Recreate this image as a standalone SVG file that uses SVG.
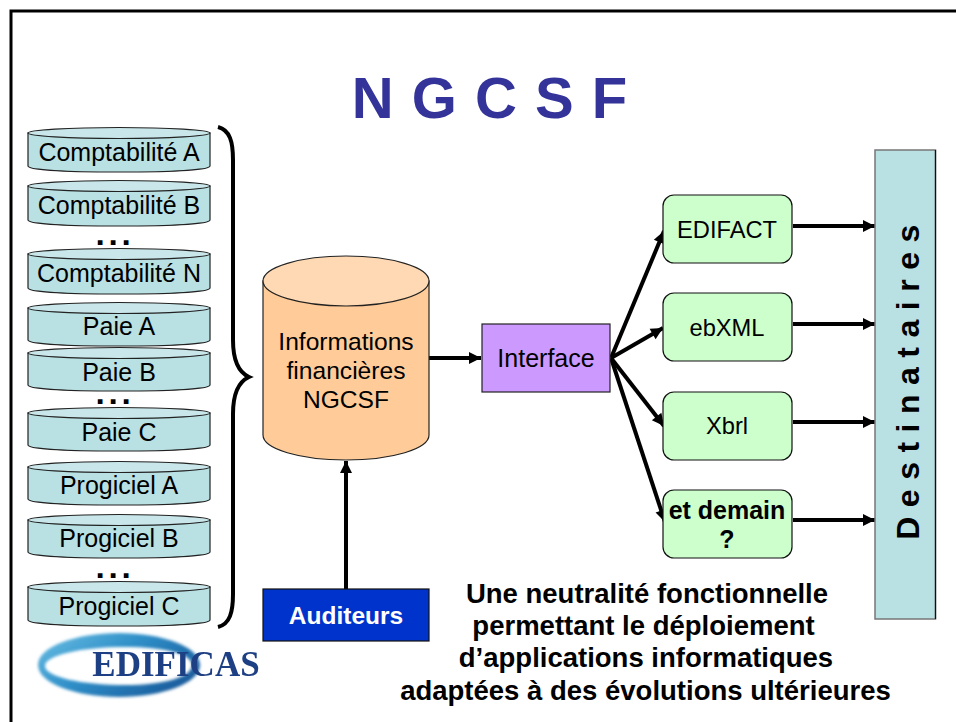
<svg xmlns="http://www.w3.org/2000/svg" width="956" height="722" viewBox="0 0 956 722">
<style>
text{font-family:"Liberation Sans",Arial,sans-serif;fill:#000;text-anchor:middle}
.db{fill:#b9e0e3;stroke:#222;stroke-width:1.2}
.dbt{fill:#c9e7ea;stroke:#222;stroke-width:1.2}
.lab{font-size:25px}
.mid{font-size:23.7px}
.b{font-weight:bold}
.box{fill:#ccffcc;stroke:#111;stroke-width:1.2}
.c{fill:none;stroke:#000;stroke-width:4}
.dots{font-size:19px;font-weight:bold;letter-spacing:7.7px;stroke:#000;stroke-width:2}
.foot{font-size:27.5px;font-weight:bold}
</style>
<defs>
<marker id="a" markerUnits="userSpaceOnUse" markerWidth="14" markerHeight="14" viewBox="0 0 14 14" refX="13" refY="7" orient="auto"><path d="M1 1L13 7L1 13Z" fill="#000"/></marker>
<linearGradient id="sw" x1="0" y1="0" x2="1" y2="0.6"><stop offset="0" stop-color="#6cc0e4"/><stop offset="0.5" stop-color="#2f8fc8"/><stop offset="1" stop-color="#1a5f9f"/></linearGradient>
<filter id="blur" x="-10%" y="-10%" width="120%" height="120%"><feGaussianBlur stdDeviation="0.6"/></filter>
<filter id="blur2" x="-10%" y="-10%" width="120%" height="120%"><feGaussianBlur stdDeviation="1.5"/></filter>
</defs>
<rect width="956" height="722" fill="#fff"/>
<path id="frame" d="M11 722V11H956" fill="none" stroke="#000" stroke-width="3"/>
<text x="490" y="118" font-size="58" class="b" style="fill:#333399" letter-spacing="1">N G C S F</text>

<g id="connectors">
<path class="c" d="M429 358H481" marker-end="url(#a)"/>
<path class="c" d="M346 589V461" marker-end="url(#a)"/>
<path class="c" d="M611 358L664 231" marker-end="url(#a)"/>
<path class="c" d="M611 358L663 328" marker-end="url(#a)"/>
<path class="c" d="M611 358L664 426" marker-end="url(#a)"/>
<path class="c" d="M611 358L665 522" marker-end="url(#a)"/>
<path class="c" d="M793 226H875" marker-end="url(#a)"/>
<path class="c" d="M793 324H875" marker-end="url(#a)"/>
<path class="c" d="M793 422H875" marker-end="url(#a)"/>
<path class="c" d="M793 520H875" marker-end="url(#a)"/>
</g>
<path id="brace" d="M218 127C230 130 233 142 233 160V340C233 360 238 372 249 377C238 382 233 394 233 414V594C233 612 230 624 218 627" fill="none" stroke="#000" stroke-width="4"/>

<g id="compta-a"><path class="db" d="M28 133V166C28 170 68 172 119 172S210 170 210 166V133Z"/><ellipse class="dbt" cx="119" cy="133" rx="91" ry="5.5"/><text class="lab" x="119" y="161">Comptabilité A</text></g>
<g id="compta-b"><path class="db" d="M28 186V220C28 224 68 226 119 226S210 224 210 220V186Z"/><ellipse class="dbt" cx="119" cy="186" rx="91" ry="5.5"/><text class="lab" x="119" y="214">Comptabilité B</text></g>
<text class="dots" x="117" y="244">...</text>
<g id="compta-n"><path class="db" d="M28 254V288C28 292 68 294 119 294S210 292 210 288V254Z"/><ellipse class="dbt" cx="119" cy="254" rx="91" ry="5.5"/><text class="lab" x="119" y="282">Comptabilité N</text></g>
<g id="paie-a"><path class="db" d="M28 308V340C28 344 68 346 119 346S210 344 210 340V308Z"/><ellipse class="dbt" cx="119" cy="308" rx="91" ry="5.5"/><text class="lab" x="119" y="335">Paie A</text></g>
<g id="paie-b"><path class="db" d="M28 353V385C28 389 68 391 119 391S210 389 210 385V353Z"/><ellipse class="dbt" cx="119" cy="353" rx="91" ry="5.5"/><text class="lab" x="119" y="381">Paie B</text></g>
<text class="dots" x="117" y="403">...</text>
<g id="paie-c"><path class="db" d="M28 413V445C28 449 68 451 119 451S210 449 210 445V413Z"/><ellipse class="dbt" cx="119" cy="413" rx="91" ry="5.5"/><text class="lab" x="119" y="441">Paie C</text></g>
<g id="progiciel-a"><path class="db" d="M28 467V499C28 503 68 505 119 505S210 503 210 499V467Z"/><ellipse class="dbt" cx="119" cy="467" rx="91" ry="5.5"/><text class="lab" x="119" y="494">Progiciel A</text></g>
<g id="progiciel-b"><path class="db" d="M28 520V552C28 556 68 558 119 558S210 556 210 552V520Z"/><ellipse class="dbt" cx="119" cy="520" rx="91" ry="5.5"/><text class="lab" x="119" y="547">Progiciel B</text></g>
<text class="dots" x="117" y="577">...</text>
<g id="progiciel-c"><path class="db" d="M28 587V620C28 624 68 626 119 626S210 624 210 620V587Z"/><ellipse class="dbt" cx="119" cy="587" rx="91" ry="5.5"/><text class="lab" x="119" y="615">Progiciel C</text></g>

<g id="infos"><path d="M263 281V435C263 449 300 460 346 460S429 449 429 435V281Z" fill="#ffcc99" stroke="#222" stroke-width="1.2"/><ellipse cx="346" cy="281" rx="83" ry="25" fill="#ffd9b3" stroke="#222" stroke-width="1.2"/>
<text class="lab" style="font-size:24.6px" x="346" y="350">Informations</text><text class="lab" style="font-size:24.6px" x="346" y="379">financières</text><text class="lab" style="font-size:24.6px" x="346" y="408">NGCSF</text></g>
<g id="interface"><rect x="482" y="324" width="128" height="68" fill="#cc99ff" stroke="#222" stroke-width="1.2"/><text class="lab" x="546" y="367">Interface</text></g>
<g id="edifact"><rect class="box" x="663" y="195" width="129" height="68" rx="11"/><text class="mid" x="727" y="238">EDIFACT</text></g>
<g id="ebxml"><rect class="box" x="663" y="293" width="129" height="68" rx="11"/><text class="mid" x="727" y="336">ebXML</text></g>
<g id="xbrl"><rect class="box" x="663" y="392" width="129" height="68" rx="11"/><text class="mid" x="727" y="434">Xbrl</text></g>
<g id="demain"><rect class="box" x="663" y="490" width="129" height="68" rx="11"/><text class="lab b" x="727" y="519">et demain</text><text class="lab b" x="727" y="548">?</text></g>
<g id="destinataires"><rect x="875" y="150" width="60.5" height="469" fill="#b9e0e3" stroke="#777" stroke-width="1.5"/><path d="M935.5 150V619" stroke="#111" stroke-width="1.2" fill="none"/><text transform="translate(919 377.5) rotate(-90)" font-size="32" class="b" letter-spacing="9.5">Destinataires</text></g>
<g id="auditeurs"><rect x="263" y="589" width="166" height="52" fill="#0033cc" stroke="#111" stroke-width="1.2"/><text x="346" y="624" font-size="24.5" class="b" style="fill:#fff">Auditeurs</text></g>

<text class="foot" x="647" y="603">Une neutralité fonctionnelle</text>
<text class="foot" x="643.5" y="635">permettant le déploiement</text>
<text class="foot" x="646" y="667">d’applications informatiques</text>
<text class="foot" x="645.5" y="700">adaptées à des évolutions ultérieures</text>

<g id="logo"><path fill-rule="evenodd" d="M38 665C38 647 75 633 119 633C163 633 200 647 200 665C200 683 163 697 119 697C75 697 38 683 38 665ZM45 666C45 677 82 685 125 685C165 685 192 677 192 665C192 654 165 647 125 647C82 647 45 655 45 666Z" fill="url(#sw)" filter="url(#blur2)"/>
<text x="176" y="676" font-size="35" font-weight="bold" style="font-family:'Liberation Serif',serif;fill:#1f3f83" filter="url(#blur)">EDIFICAS</text></g>
</svg>
